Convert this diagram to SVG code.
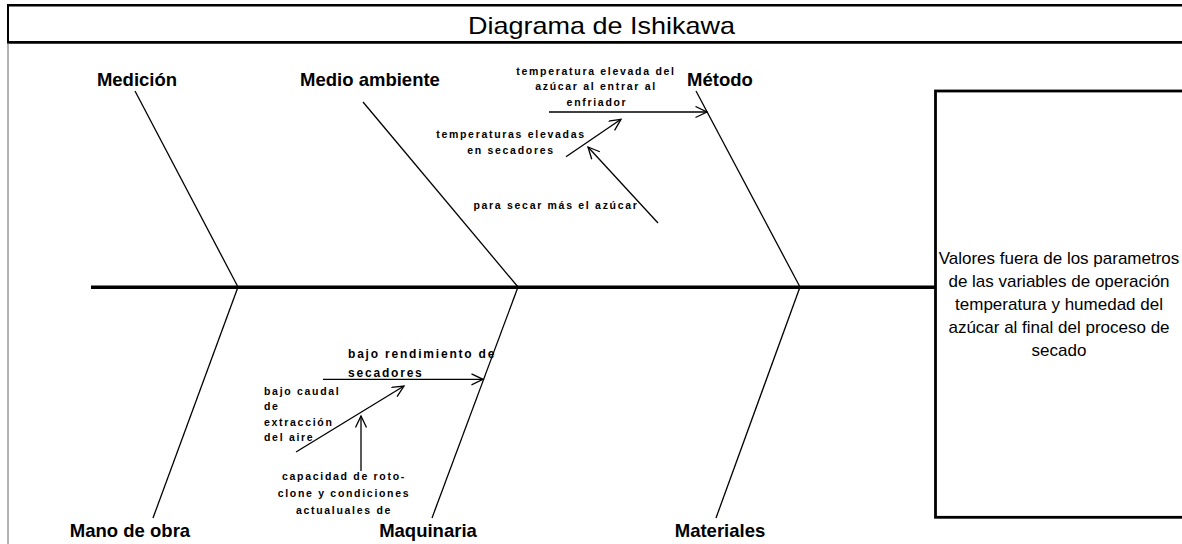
<svg xmlns="http://www.w3.org/2000/svg" width="1182" height="544" viewBox="0 0 1182 544">
<style>
  .frame { stroke: #000; fill: none; }
  .bone { stroke: #000; stroke-width: 1.3; fill: none; }
  .arr { stroke: #000; stroke-width: 1.3; fill: none; marker-end: url(#open); }
  .lbl { font-family: "Liberation Sans", Arial, sans-serif; font-weight: bold; font-size: 18.5px; text-anchor: middle; fill: #000; }
  .sm { font-family: "Liberation Sans", Arial, sans-serif; font-weight: bold; font-size: 10.5px; letter-spacing: 1.7px; fill: #000; }
  .c { text-anchor: middle; }
  .title { font-family: "Liberation Sans", Arial, sans-serif; font-size: 24px; text-anchor: middle; fill: #000; }
  .eff { font-family: "Liberation Sans", Arial, sans-serif; font-size: 17px; text-anchor: middle; fill: #000; }
</style>
<defs>
  <marker id="open" markerUnits="userSpaceOnUse" markerWidth="16" markerHeight="14" refX="12" refY="6" orient="auto">
    <path d="M0.5,0.5 L12,6 L0.5,11.5" fill="none" stroke="#000" stroke-width="1.3"/>
  </marker>
</defs>
<rect width="1182" height="544" fill="#fff"/>
<g id="frame">
  <line class="frame" x1="7" y1="5.3" x2="1182" y2="5.3" stroke-width="2.5"/>
  <line class="frame" x1="7" y1="42.3" x2="1182" y2="42.3" stroke-width="2.7"/>
  <line class="frame" x1="8" y1="4" x2="8" y2="43" stroke-width="2"/>
  <line x1="8" y1="43" x2="8" y2="544" stroke="#666" stroke-width="1"/>
  <text class="title" x="601.5" y="34" textLength="267" lengthAdjust="spacingAndGlyphs">Diagrama de Ishikawa</text>
</g>
<g id="spine">
  <line x1="91" y1="287.3" x2="935" y2="287.3" stroke="#000" stroke-width="3.5"/>
</g>
<g id="effect">
  <rect x="935.5" y="91" width="260" height="426.3" fill="#fff" stroke="#000" stroke-width="2.8"/>
  <text class="eff" x="1059" y="264">Valores fuera de los parametros</text>
  <text class="eff" x="1059" y="287">de las variables de operación</text>
  <text class="eff" x="1059" y="310">temperatura y humedad del</text>
  <text class="eff" x="1059" y="333">azúcar al final del proceso de</text>
  <text class="eff" x="1059" y="356">secado</text>
</g>
<g id="medicion">
  <line class="bone" x1="135" y1="91" x2="238" y2="287"/>
  <text class="lbl" x="137" y="86">Medición</text>
</g>
<g id="medio-ambiente">
  <line class="bone" x1="363" y1="102" x2="518" y2="287"/>
  <text class="lbl" x="370" y="86">Medio ambiente</text>
</g>
<g id="metodo">
  <line class="bone" x1="696" y1="91" x2="800" y2="287"/>
  <text class="lbl" x="720" y="86">Método</text>
</g>
<g id="mano-de-obra">
  <line class="bone" x1="238" y1="287" x2="153" y2="518"/>
  <text class="lbl" x="130" y="537">Mano de obra</text>
</g>
<g id="maquinaria">
  <line class="bone" x1="518" y1="287" x2="432" y2="518"/>
  <text class="lbl" x="428" y="537">Maquinaria</text>
</g>
<g id="materiales">
  <line class="bone" x1="800" y1="287" x2="716" y2="518"/>
  <text class="lbl" x="720" y="537">Materiales</text>
</g>
<g id="causa-temp-azucar">
  <text class="sm c" x="596" y="74.5">temperatura elevada del</text>
  <text class="sm c" x="596" y="90">azúcar al entrar al</text>
  <text class="sm c" x="597" y="105.5">enfriador</text>
</g>
<g id="causa-temp-secadores">
  <text class="sm c" x="511" y="138">temperaturas elevadas</text>
  <text class="sm c" x="511" y="154">en secadores</text>
</g>
<g id="causa-secar">
  <text class="sm c" x="556" y="209">para secar más el azúcar</text>
</g>
<g id="causa-rendimiento">
  <text class="sm" x="348" y="358" style="font-size:12px;letter-spacing:1.8px">bajo rendimiento de</text>
  <text class="sm" x="348" y="377" style="font-size:12px;letter-spacing:1.8px">secadores</text>
</g>
<g id="causa-caudal">
  <text class="sm" x="264" y="395">bajo caudal</text>
  <text class="sm" x="264" y="410">de</text>
  <text class="sm" x="264" y="426">extracción</text>
  <text class="sm" x="264" y="441">del aire</text>
</g>
<g id="causa-rotoclone">
  <text class="sm c" x="344" y="480">capacidad de roto-</text>
  <text class="sm c" x="344" y="497">clone y condiciones</text>
  <text class="sm c" x="344" y="514">actualuales de</text>
</g>
<g id="connectors">
  <line class="arr" x1="549" y1="112" x2="707" y2="112"/>
  <line class="arr" x1="566" y1="156.7" x2="621" y2="119.3"/>
  <line class="arr" x1="658" y1="223" x2="588" y2="147"/>
  <line class="arr" x1="323" y1="379.3" x2="483" y2="379.3"/>
  <line class="arr" x1="296" y1="452" x2="404" y2="386"/>
  <line class="arr" x1="361" y1="471" x2="361" y2="416"/>
</g>
</svg>
